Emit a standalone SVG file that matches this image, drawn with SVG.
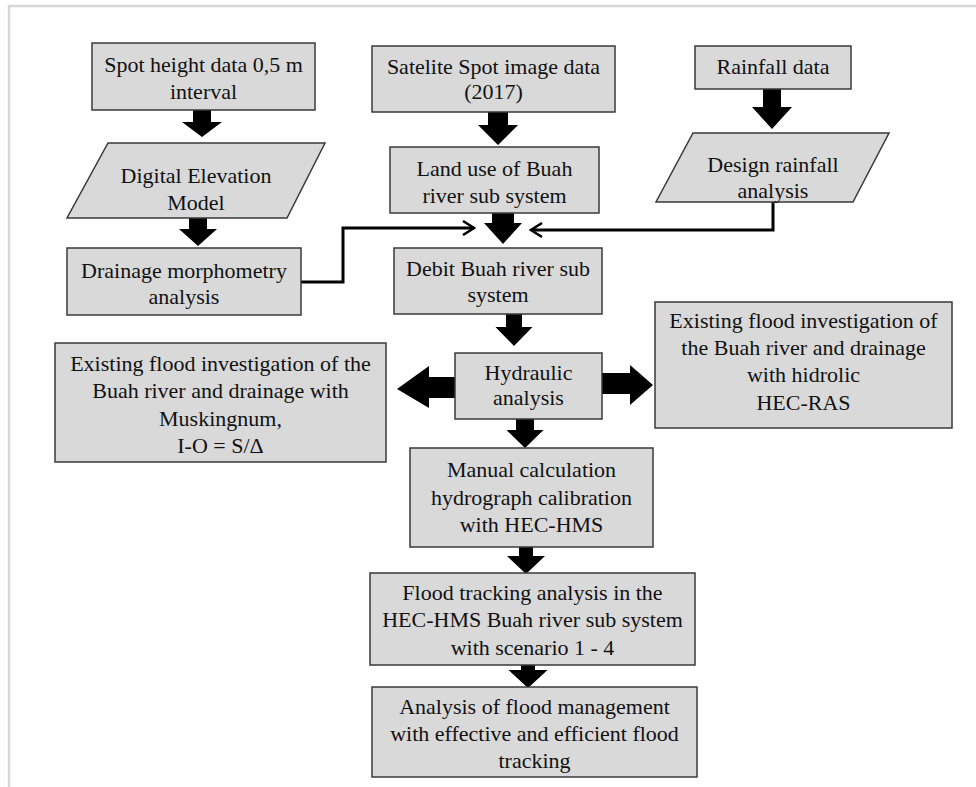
<svg xmlns="http://www.w3.org/2000/svg" width="976" height="787" viewBox="0 0 976 787">
<style>
.box{fill:#d9d9d9;stroke:#3a3a3a;stroke-width:1.5}
.t{font-family:"Liberation Serif","Times New Roman",serif;font-size:22px;fill:#111;text-anchor:middle}
.blk{fill:#000}
.ln{fill:none;stroke:#000;stroke-width:3}
.frame{stroke:#d6d6d6;stroke-width:2.5;fill:none}
</style>
<defs>
<marker id="chev" viewBox="0 0 14 16" refX="12" refY="8" markerWidth="14" markerHeight="16" markerUnits="userSpaceOnUse" orient="auto">
<path d="M1,1 L12,8 L1,15" fill="none" stroke="#000" stroke-width="2.5"/>
</marker>
</defs>
<rect width="976" height="787" fill="#fff"/>
<path class="frame" d="M9,787 V6 H976"/>

<g id="connectors">
<polyline class="ln" points="301,282 343,282 343,228 474,228" marker-end="url(#chev)"/>
<polyline class="ln" points="773,202 773,230 531,230" marker-end="url(#chev)"/>
<polygon class="blk" points="193,110 211,110 211,122 222,122 202,137 182,122 193,122"/>
<polygon class="blk" points="189,218 207,218 207,229 217,229 198,246 179,229 189,229"/>
<polygon class="blk" points="488,112 508,112 508,125 518,125 498,145 478,125 488,125"/>
<polygon class="blk" points="763,89 781,89 781,107 792,107 772,129 752,107 763,107"/>
<polygon class="blk" points="492,213 514,213 514,223 522,223 503,244 484,223 492,223"/>
<polygon class="blk" points="506,314 522,314 522,327 532.5,327 514,346 495.5,327 506,327"/>
<polygon class="blk" points="516,419 534,419 534,430 543.5,430 525,448 506.5,430 516,430"/>
<polygon class="blk" points="519,547 533,547 533,556 545,556 526,574 507,556 519,556"/>
<polygon class="blk" points="521,665 535,665 535,670 547.5,670 528,688 508.5,670 521,670"/>
<polygon class="blk" points="455,377 429,377 429,366 397,389 429,408 429,398 455,398"/>
<polygon class="blk" points="602,373 630,373 630,365 653,385 630,405 630,394 602,394"/>
</g>

<g id="spot-height">
<rect class="box" x="92" y="43" width="223" height="67"/>
<text class="t" x="203.5" y="72">Spot height data 0,5 m</text>
<text class="t" x="203.5" y="99">interval</text>
</g>
<g id="satelite">
<rect class="box" x="372" y="46" width="243" height="66"/>
<text class="t" x="493.5" y="74">Satelite Spot image data</text>
<text class="t" x="493.5" y="99">(2017)</text>
</g>
<g id="rainfall">
<rect class="box" x="695" y="46" width="156" height="43"/>
<text class="t" x="773" y="74">Rainfall data</text>
</g>
<g id="dem">
<polygon class="box" points="108,143 325,143 287,218 67,218"/>
<text class="t" x="196" y="183">Digital Elevation</text>
<text class="t" x="196" y="210">Model</text>
</g>
<g id="land-use">
<rect class="box" x="390" y="147" width="209" height="66"/>
<text class="t" x="494.5" y="176">Land use of Buah</text>
<text class="t" x="494.5" y="203">river sub system</text>
</g>
<g id="design-rainfall">
<polygon class="box" points="693,133 889,133 853,202 656,202"/>
<text class="t" x="773" y="172">Design rainfall</text>
<text class="t" x="773" y="198">analysis</text>
</g>
<g id="drainage">
<rect class="box" x="67" y="248" width="234" height="67"/>
<text class="t" x="184" y="278">Drainage morphometry</text>
<text class="t" x="184" y="304">analysis</text>
</g>
<g id="debit">
<rect class="box" x="394" y="248" width="208" height="66"/>
<text class="t" x="498" y="276">Debit Buah river sub</text>
<text class="t" x="498" y="302">system</text>
</g>
<g id="hydraulic">
<rect class="box" x="455" y="353" width="147" height="66"/>
<text class="t" x="528.5" y="380">Hydraulic</text>
<text class="t" x="528.5" y="405">analysis</text>
</g>
<g id="existing-muskingnum">
<rect class="box" x="55" y="343" width="331" height="119"/>
<text class="t" x="220.5" y="371">Existing flood investigation of the</text>
<text class="t" x="220.5" y="398">Buah river and drainage with</text>
<text class="t" x="220.5" y="426">Muskingnum,</text>
<text class="t" x="220.5" y="453">I-O = S/Δ</text>
</g>
<g id="existing-hecras">
<rect class="box" x="655" y="302" width="297" height="126"/>
<text class="t" x="803.5" y="328">Existing flood investigation of</text>
<text class="t" x="803.5" y="355">the Buah river and drainage</text>
<text class="t" x="803.5" y="382">with hidrolic</text>
<text class="t" x="803.5" y="410">HEC-RAS</text>
</g>
<g id="manual">
<rect class="box" x="410" y="448" width="243" height="99"/>
<text class="t" x="531.5" y="477">Manual calculation</text>
<text class="t" x="531.5" y="505">hydrograph calibration</text>
<text class="t" x="531.5" y="532">with HEC-HMS</text>
</g>
<g id="flood-tracking">
<rect class="box" x="370" y="573" width="325" height="92"/>
<text class="t" x="532.5" y="600">Flood tracking analysis in the</text>
<text class="t" x="532.5" y="627">HEC-HMS Buah river sub system</text>
<text class="t" x="532.5" y="655">with scenario 1 - 4</text>
</g>
<g id="flood-management">
<rect class="box" x="372" y="687" width="325" height="90"/>
<text class="t" x="534.5" y="714">Analysis of flood management</text>
<text class="t" x="534.5" y="741">with effective and efficient flood</text>
<text class="t" x="534.5" y="768">tracking</text>
</g>
</svg>
